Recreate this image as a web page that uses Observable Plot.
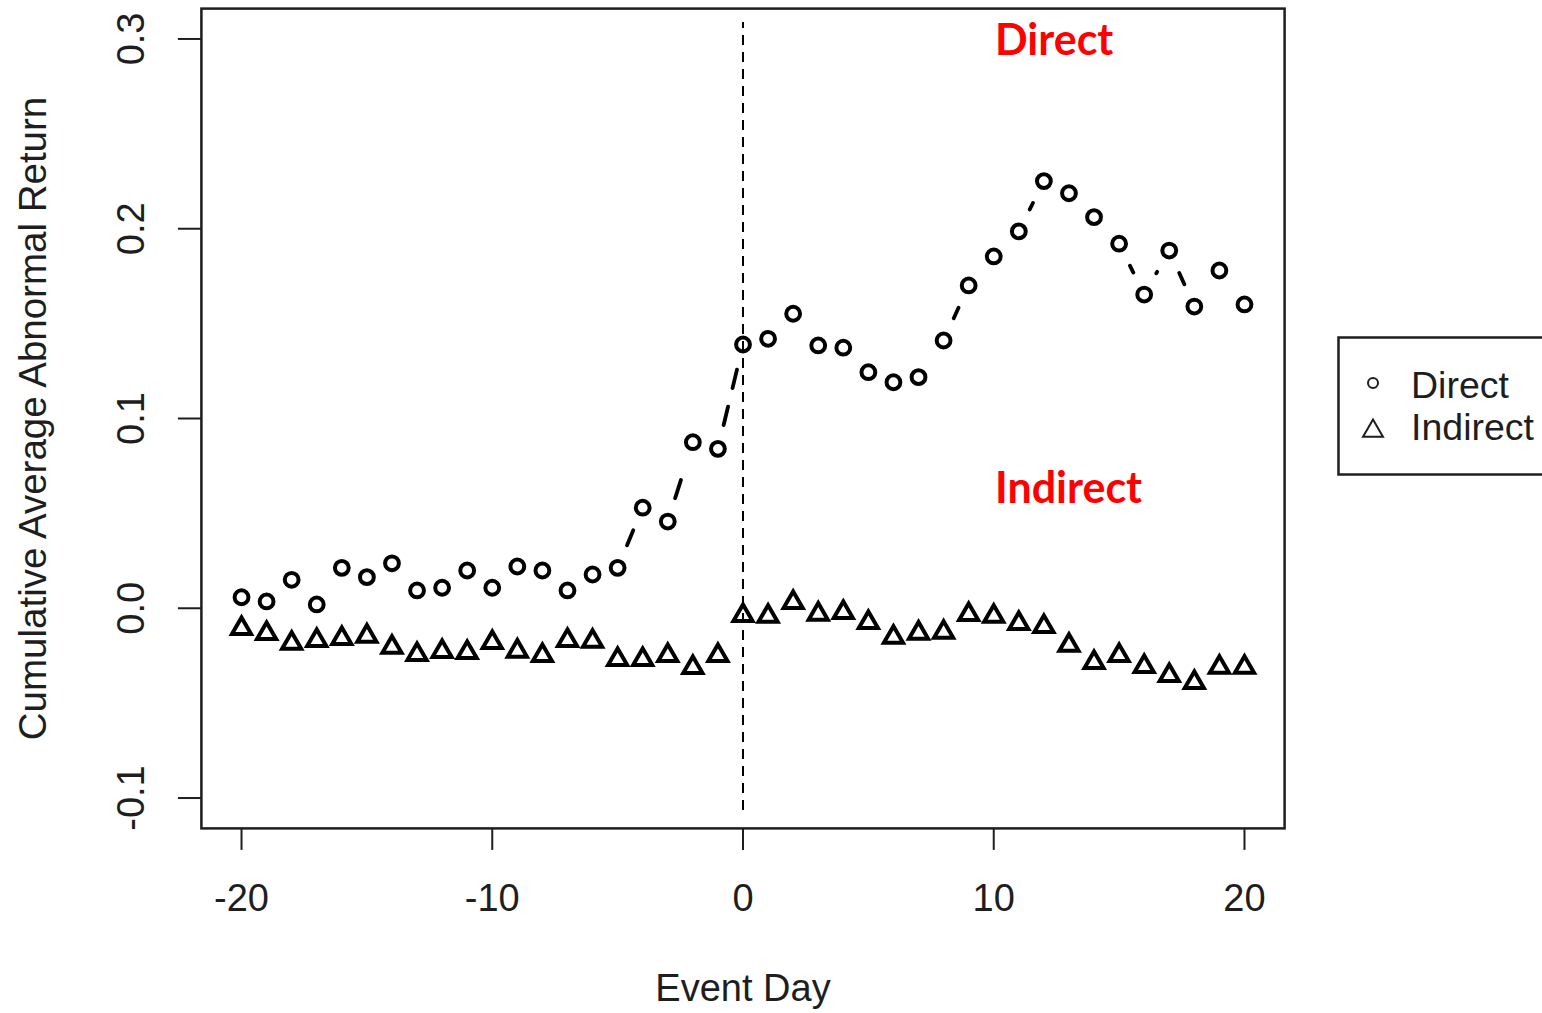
<!DOCTYPE html>
<html><head><meta charset="utf-8">
<script src="https://cdn.jsdelivr.net/npm/d3@7"></script>
<script src="https://cdn.jsdelivr.net/npm/@observablehq/plot@0.6"></script>
<style>
html,body{margin:0;padding:0;background:#fff;}
#wrap{position:relative;width:1542px;height:1013px;overflow:hidden;background:#fff;}
</style></head><body><div id="wrap"></div>
<script>
// ---- data ----
const eventDays = [-20,-19,-18,-17,-16,-15,-14,-13,-12,-11,-10,-9,-8,-7,-6,-5,-4,-3,-2,-1,0,1,2,3,4,5,6,7,8,9,10,11,12,13,14,15,16,17,18,19,20];
const directCAAR = [0.0058,0.0036,0.0150,0.0020,0.0213,0.0164,0.0237,0.0094,0.0108,0.0199,0.0108,0.0220,0.0199,0.0094,0.0178,0.0213,0.0530,0.0457,0.0875,0.0840,
  0.1390,0.1420,0.1552,0.1385,0.1373,0.1244,0.1191,0.1218,0.1411,0.1701,0.1854,0.1986,0.2251,0.2187,0.2061,0.1921,0.1653,0.1885,0.1590,0.1780,0.1601];
const indirectCAAR = [-0.0107,-0.0133,-0.0184,-0.0170,-0.0159,-0.0147,-0.0205,-0.0244,-0.0228,-0.0233,-0.0180,-0.0226,-0.0249,-0.0170,-0.0174,-0.0270,-0.0270,-0.0249,-0.0312,-0.0249,
  -0.0038,-0.0042,0.0030,-0.0031,-0.0022,-0.0075,-0.0153,-0.0131,-0.0126,-0.0033,-0.0042,-0.0080,-0.0096,-0.0195,-0.0286,-0.0249,-0.0307,-0.0354,-0.0391,-0.0311,-0.0311];
const xTicks = [-20,-10,0,10,20];
const yTicks = [-0.1,0.0,0.1,0.2,0.3];
const seriesNames = ["Direct","Indirect"];
const annotationLabels = ["Direct","Indirect"];
const annotationDay = [10.05,10.05];
const annotationCAAR = [0.2915,0.0555];
const eventLineDay = [0];
const eventLineSpan = [-0.1066,0.3087];
const xTitle = "Event Day";
const yTitle = "Cumulative Average Abnormal Return";

// ---- build ----
const direct = eventDays.map((d,i)=>({day:d, caar:directCAAR[i]}));
const indirect = eventDays.map((d,i)=>({day:d, caar:indirectCAAR[i]}));

// R type="b": segments between points, shortened around each point; dash restarts per segment
const GAP = 24.5;
function gapCurve(context){
  let pts = [];
  return {
    areaStart(){}, areaEnd(){},
    lineStart(){ pts = []; },
    point(x,y){ pts.push([+x,+y]); },
    lineEnd(){
      for (let i=0;i<pts.length-1;i++){
        const [x0,y0]=pts[i],[x1,y1]=pts[i+1];
        const dx=x1-x0, dy=y1-y0, L=Math.hypot(dx,dy);
        if (L>2*GAP){
          const ux=dx/L, uy=dy/L;
          context.moveTo(x0+ux*GAP,y0+uy*GAP);
          context.lineTo(x1-ux*GAP,y1-uy*GAP);
        }
      }
    }
  };
}

const FONT = '"Liberation Sans", Arial, sans-serif';
const INK = "#1e1e1e";
const chart = Plot.plot({
  width: 1542, height: 1013,
  marginLeft: 200.9, marginRight: 257.9, marginTop: 8.1, marginBottom: 185.1,
  x: {domain: [-21.6, 21.6]},
  y: {domain: [-0.116, 0.316]},
  style: {fontFamily: FONT, background: "white", color: INK, overflow: "visible"},
  marks: [
    Plot.line(direct, {x:"day", y:"caar", curve: gapCurve, stroke:"black", strokeWidth:3.8, strokeDasharray:"19,19"}),
    Plot.line(indirect, {x:"day", y:"caar", curve: gapCurve, stroke:"black", strokeWidth:3.8, strokeDasharray:"19,19"}),
    Plot.ruleX(eventLineDay, {x:d=>d, y1:eventLineSpan[0], y2:eventLineSpan[1], stroke:"black", strokeWidth:2, strokeDasharray:"10,7"}),
    Plot.dot(direct, {x:"day", y:"caar", r:6.9, symbol:"circle", stroke:"black", strokeWidth:4, fill:"none"}),
    Plot.dot(indirect, {x:"day", y:"caar", r:7.1, symbol:"triangle", stroke:"black", strokeWidth:4, fill:"none"}),
    Plot.text(annotationLabels, {x:(d,i)=>annotationDay[i], y:(d,i)=>annotationCAAR[i], text:d=>d, fill:"#ff0000", fontWeight:"bold", fontFamily:"Lato", fontSize:43, textAnchor:"start", lineAnchor:"bottom"}),
    Plot.axisX({ticks:xTicks, tickSize:22, tickPadding:34, fontSize:38, tickFormat:d=>String(d), label:null, strokeWidth:2, stroke:INK}),
    Plot.axisY({ticks:yTicks, tickSize:23, tickFormat:()=>"", label:null, strokeWidth:2, stroke:INK}),
    Plot.text(yTicks, {y:d=>d, text:d=>d.toFixed(1), frameAnchor:"left", dx:-70, rotate:-90, fontSize:38, lineAnchor:"middle", textAnchor:"middle", fill:INK}),
    Plot.text([yTitle], {frameAnchor:"left", dx:-168, rotate:-90, fontSize:38.5, lineAnchor:"middle", textAnchor:"middle", fill:INK}),
    Plot.text([xTitle], {frameAnchor:"bottom", dy:173, fontSize:38, lineAnchor:"bottom", textAnchor:"middle", fill:INK}),
    Plot.frame({stroke:INK, strokeWidth:2.5})
  ]
});
const wrap = document.getElementById("wrap");
wrap.appendChild(chart);

// ---- legend (outside plot area, right side) ----
const lg = d3.create("svg").attr("width",220).attr("height",142)
  .style("font-family",FONT).style("position","absolute").style("left","1337px").style("top","336px");
lg.append("rect").attr("x",1.5).attr("y",1.5).attr("width",260).attr("height",137).attr("fill","white").attr("stroke",INK).attr("stroke-width",2.5);
const sym = [d3.symbolCircle, d3.symbolTriangle];
const symY = [47, 95];
const txtY = [62, 104];
seriesNames.forEach((name,i)=>{
  lg.append("path").attr("d", d3.symbol(sym[i], i===0 ? Math.PI*5*5 : Math.PI*7.4*7.4)())
    .attr("transform",`translate(36,${symY[i]})`).attr("fill","none").attr("stroke",INK).attr("stroke-width",2);
  lg.append("text").attr("x",74).attr("y",txtY[i]).attr("font-size",37.5).attr("fill",INK).text(name);
});
wrap.appendChild(lg.node());
</script>
</body></html>
